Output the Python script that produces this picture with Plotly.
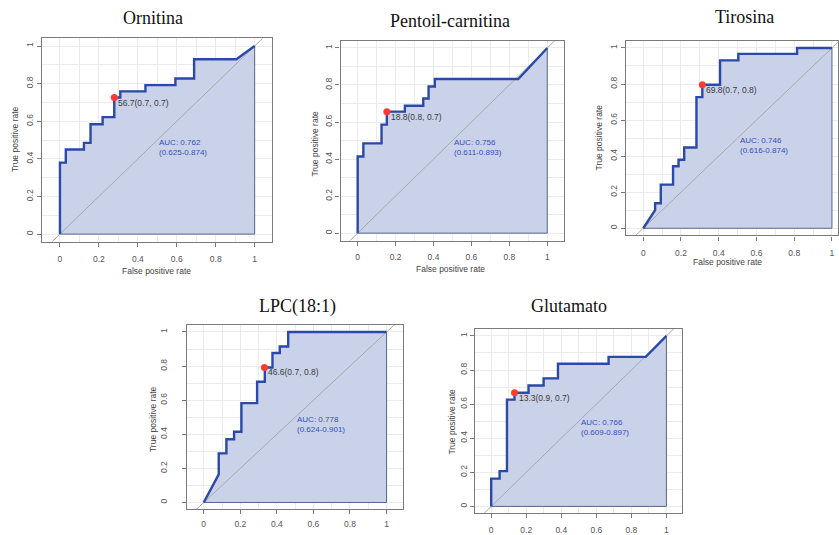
import plotly.graph_objects as go

# ---------------- data ----------------
titles = ["Ornitina", "Pentoil-carnitina", "Tirosina", "LPC(18:1)", "Glutamato"]

fpr_ornitina = [0, 0, 0.03, 0.03, 0.123, 0.123, 0.157, 0.157, 0.219, 0.219, 0.279, 0.279,
                0.31, 0.31, 0.439, 0.439, 0.593, 0.593, 0.689, 0.689, 0.906, 1]
tpr_ornitina = [0, 0.38, 0.38, 0.45, 0.45, 0.485, 0.485, 0.584, 0.584, 0.622, 0.622, 0.726,
                0.726, 0.759, 0.759, 0.792, 0.792, 0.827, 0.827, 0.93, 0.93, 1]

fpr_pentoil = [0, 0, 0.03, 0.03, 0.126, 0.126, 0.154, 0.154, 0.249, 0.249, 0.346, 0.346,
               0.374, 0.374, 0.407, 0.407, 0.847, 1]
tpr_pentoil = [0, 0.414, 0.414, 0.485, 0.485, 0.586, 0.586, 0.656, 0.656, 0.688, 0.688, 0.727,
               0.727, 0.792, 0.792, 0.832, 0.832, 1]

fpr_tirosina = [0, 0.063, 0.063, 0.093, 0.093, 0.158, 0.158, 0.187, 0.187, 0.217, 0.217, 0.282,
                0.282, 0.313, 0.313, 0.407, 0.407, 0.504, 0.504, 0.815, 0.815, 1]
tpr_tirosina = [0, 0.1, 0.139, 0.139, 0.242, 0.242, 0.344, 0.344, 0.38, 0.38, 0.448, 0.448,
                0.727, 0.727, 0.796, 0.796, 0.931, 0.931, 0.967, 0.967, 1, 1]

fpr_lpc = [0, 0.082, 0.082, 0.124, 0.124, 0.166, 0.166, 0.206, 0.206, 0.292, 0.292, 0.334,
           0.334, 0.376, 0.376, 0.416, 0.416, 0.462, 0.462, 1]
tpr_lpc = [0, 0.165, 0.288, 0.288, 0.371, 0.371, 0.415, 0.415, 0.583, 0.583, 0.708, 0.708,
           0.792, 0.792, 0.877, 0.877, 0.915, 0.915, 1, 1]

fpr_glutamato = [0, 0, 0.048, 0.048, 0.09, 0.09, 0.133, 0.133, 0.213, 0.213, 0.299, 0.299,
                 0.381, 0.381, 0.67, 0.67, 0.882, 1]
tpr_glutamato = [0, 0.163, 0.163, 0.207, 0.207, 0.626, 0.626, 0.667, 0.667, 0.709, 0.709, 0.751,
                 0.751, 0.837, 0.837, 0.877, 0.877, 1]

best_fpr = [0.279, 0.154, 0.313, 0.332, 0.133]
best_tpr = [0.726, 0.656, 0.796, 0.792, 0.667]
best_labels = ["56.7(0.7, 0.7)", "18.8(0.8, 0.7)", "69.8(0.7, 0.8)", "46.6(0.7, 0.8)", "13.3(0.9, 0.7)"]

auc_values = ["0.762", "0.756", "0.746", "0.778", "0.766"]
auc_ci = ["0.625-0.874", "0.611-0.893", "0.616-0.874", "0.624-0.901", "0.609-0.897"]

tick_vals = [0, 0.2, 0.4, 0.6, 0.8, 1]
tick_text = ["0", "0.2", "0.4", "0.6", "0.8", "1"]

curves = [(fpr_ornitina, tpr_ornitina), (fpr_pentoil, tpr_pentoil), (fpr_tirosina, tpr_tirosina),
          (fpr_lpc, tpr_lpc), (fpr_glutamato, tpr_glutamato)]

# ---------------- layout geometry (pixels) ----------------
W, H = 839, 535
boxes = [(42.5, 272.5, 39.3, 246.7),
         (341, 565, 41.4, 245.6),
         (627, 839, 41.6, 240.4),
         (187.5, 403.5, 332, 520),
         (476, 683, 336, 524)]
x_ranges = [[-0.09, 1.09], [-0.09, 1.09], [-0.09, 1.032], [-0.09, 1.09], [-0.09, 1.09]]
y_range = [-0.04, 1.04]
x_standoff = [5, 4, 5, 2, 4]
y_standoff = [1, 0, 1, 12, 0]
title_pos = [(153, 18), (451, 21), (745, 17), (298, 313), (570, 312)]
xlab_pos = [(157, 277), (451, 275), (728, 268), None, None]
ylab_pos = [(15, 142), (315, 147), (600, 140), (153, 428), (453, 430)]

SANS = "Liberation Sans, Arial, sans-serif"
SERIF = "Liberation Serif, Times New Roman, serif"
LINE_BLUE = "#2b4aa8"
FILL = "rgb(202,210,234)"
GRID = "#ebebeb"
AXC = "#7a7a7a"

fig = go.Figure()
annotations = []
layout_axes = {}

for i, (fx, ty) in enumerate(curves):
    n = i + 1
    xa = "x" if n == 1 else f"x{n}"
    ya = "y" if n == 1 else f"y{n}"
    fig.add_trace(go.Scatter(
        x=list(fx) + [1, 0], y=list(ty) + [0, 0], xaxis=xa, yaxis=ya,
        mode="lines", fill="toself", fillcolor=FILL,
        line=dict(color="#55668f", width=1), hoverinfo="skip", showlegend=False))
    fig.add_trace(go.Scatter(
        x=[-0.2, 1.2], y=[-0.2, 1.2], xaxis=xa, yaxis=ya, mode="lines",
        line=dict(color="#a8a8a8", width=1), hoverinfo="skip", showlegend=False))
    fig.add_trace(go.Scatter(
        x=fx, y=ty, xaxis=xa, yaxis=ya, mode="lines",
        line=dict(color=LINE_BLUE, width=2.4), showlegend=False))
    fig.add_trace(go.Scatter(
        x=[best_fpr[i]], y=[best_tpr[i]], xaxis=xa, yaxis=ya, mode="markers",
        marker=dict(color="#ff3b30", size=7), showlegend=False, cliponaxis=False))

    l, r, t, b = boxes[i]
    axis_common = dict(
        tickvals=tick_vals, ticktext=tick_text, ticks="outside", ticklen=4,
        tickcolor=AXC, tickwidth=1, showline=True, linecolor=AXC, linewidth=1.2,
        mirror=True, zeroline=False, showgrid=True, gridcolor=GRID, gridwidth=1,
        minor=dict(dtick=0.1, tick0=0, showgrid=True, gridcolor=GRID, gridwidth=1, ticks=""),
        tickfont=dict(family=SANS, size=8.5, color="#555555"),
        ticklabeloverflow="allow",
    )
    layout_axes["xaxis" if n == 1 else f"xaxis{n}"] = dict(
        axis_common, domain=[l / W, min(r / W, 1)], range=x_ranges[i],
        anchor=ya, ticklabelstandoff=int(x_standoff[i]))
    layout_axes["yaxis" if n == 1 else f"yaxis{n}"] = dict(
        axis_common, domain=[1 - b / H, 1 - t / H], range=y_range,
        anchor=xa, tickangle=-90, ticklabelstandoff=int(y_standoff[i]))

    tx, tyy = title_pos[i]
    annotations.append(dict(text=titles[i], x=tx / W, y=1 - tyy / H, xref="paper", yref="paper",
                            showarrow=False, xanchor="center", yanchor="middle",
                            font=dict(family=SERIF, size=18, color="#111111")))
    if xlab_pos[i] is not None:
        px, py = xlab_pos[i]
        annotations.append(dict(text="False positive rate", x=px / W, y=1 - py / H,
                                xref="paper", yref="paper", showarrow=False,
                                xanchor="center", yanchor="middle",
                                font=dict(family=SANS, size=8.5, color="#444444")))
    px, py = ylab_pos[i]
    annotations.append(dict(text="True positive rate", x=px / W, y=1 - py / H,
                            xref="paper", yref="paper", showarrow=False, textangle=-90,
                            xanchor="center", yanchor="middle",
                            font=dict(family=SANS, size=8.5, color="#444444")))
    annotations.append(dict(text=best_labels[i], x=best_fpr[i], y=best_tpr[i], xref=xa, yref=ya,
                            showarrow=False, xanchor="left", yanchor="middle",
                            xshift=2, yshift=-5,
                            font=dict(family=SANS, size=8.5, color="#3a3a3a")))
    annotations.append(dict(text=f"AUC: {auc_values[i]}<br>({auc_ci[i]})", x=0.5, y=0.46,
                            xref=xa, yref=ya, showarrow=False, xanchor="left",
                            yanchor="middle", align="left",
                            font=dict(family=SANS, size=8, color="#3350b8")))

fig.update_layout(
    width=W, height=H, margin=dict(l=0, r=0, t=0, b=0),
    paper_bgcolor="white", plot_bgcolor="white",
    annotations=annotations, showlegend=False, **layout_axes)

fig.write_html(
    "out.html",
    config={"displayModeBar": False},
    post_script="document.body.style.margin='0';document.body.style.overflow='hidden';"
                "document.documentElement.style.overflow='hidden';")
